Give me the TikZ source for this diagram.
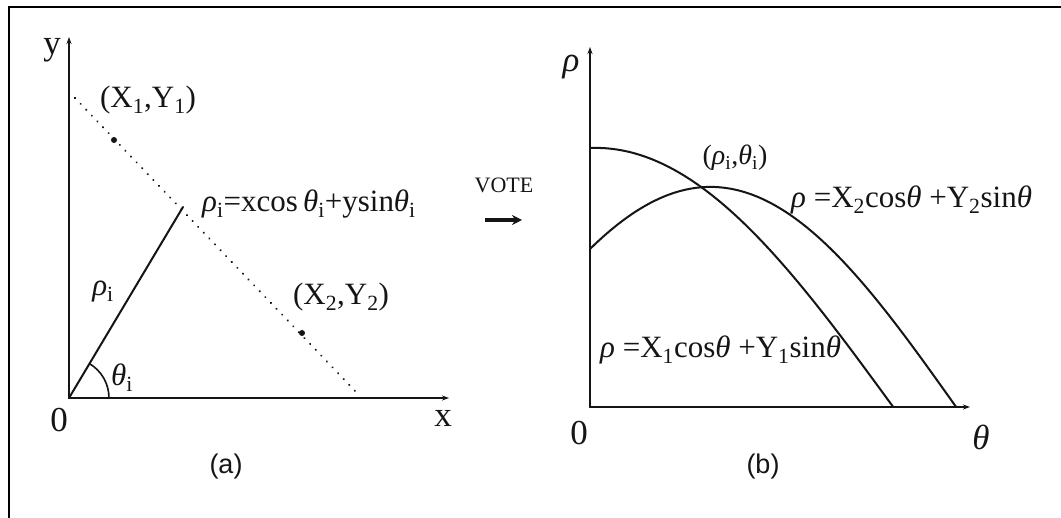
\documentclass[tikz,border=0pt]{standalone}
\usepackage{fontspec}
\setmainfont{Liberation Serif}
\setsansfont{Liberation Sans}
\usepackage{tikz}
\usetikzlibrary{positioning, arrows.meta}
\usepackage{xcolor}
\definecolor{houghInk}{HTML}{151515}
\newcommand{\rh}{\textit{ρ}}
\newcommand{\tht}{\textit{θ}}

\begin{document}
\begin{tikzpicture}[x=1pt, y=1pt, line cap=round,
    txt/.style={font=\fontsize{31}{34}\selectfont, inner sep=0pt, text=houghInk},
    axlbl/.style={font=\fontsize{35}{37}\selectfont, inner sep=0pt, text=houghInk},
    subcap/.style={font=\sffamily\fontsize{27}{30}\selectfont, inner sep=0pt, text=houghInk},
    axis/.style={draw=houghInk, line width=2.3pt, -{Stealth[length=7pt, width=5pt]}},
    curve/.style={draw=houghInk, line width=2pt},
    dotline/.style={draw=houghInk, line width=2.2pt, dash pattern=on 0.1pt off 8pt}]
        \fill[white] (0,0) rectangle (1061,518);
        \useasboundingbox (0,0) rectangle (1061,518);
        % frame
        \draw[line width=2.2pt, line cap=butt] (9,0) -- (9,511) -- (1062,511);
        % (a) x-y plane
        \coordinate (oA) at (69,120);
        \coordinate (yTop) at (69,481);
        \coordinate (xEnd) at (449,120);
        \draw[axis] (oA) -- (yTop);
        \draw[axis] (oA) -- (xEnd);
        \coordinate (lineA) at (75,420);
        \coordinate (lineB) at (357,125);
        \coordinate (foot) at (183,311);
        \coordinate (ptA) at (114,378);
        \coordinate (ptB) at (302,185);
        \draw[dotline] (lineA) -- (lineB);
        \draw[curve] (oA) -- (foot);
        \fill[houghInk] (ptA) circle[radius=3];
        \fill[houghInk] (ptB) circle[radius=3];
        \draw[houghInk, line width=1.6pt] (oA) ++(40,0) arc[start angle=0, end angle=59, radius=40];
        \node[axlbl] (yLbl) at (52,468) {y};
        \node[axlbl] (oLblA) at (59,98) {0};
        \node[axlbl] (xLbl) at (443,100) {x};
        \node[txt] (ptALbl) at (148,418) {(X\textsubscript{1},Y\textsubscript{1})};
        \node[txt] (ptBLbl) at (341,221) {(X\textsubscript{2},Y\textsubscript{2})};
        \node[txt, anchor=west] (lineEq) at (202,314) {\rh\textsubscript{i}=xcos\,\tht\textsubscript{i}+ysin\tht\textsubscript{i}};
        \node[txt] (rhoLbl) at (103,226) {\rh\textsubscript{i}};
        \node[txt] (angLbl) at (122,140) {\tht\textsubscript{i}};
        \node[subcap] (capA) at (226,51) {(a)};
        % vote arrow
        \node[txt, font=\fontsize{22}{24}\selectfont] (vote) at (504,333) {VOTE};
        \coordinate (voteS) at (485,298);
        \coordinate (voteE) at (522,298);
        \draw[houghInk, line width=3.6pt, line cap=butt, -{Stealth[length=10pt, width=10pt]}] (voteS) -- (voteE);
        % (b) rho-theta plane
        \coordinate (oB) at (590,111);
        \coordinate (rhoTop) at (590,471);
        \coordinate (thEnd) at (970,111);
        \draw[axis] (oB) -- (rhoTop);
        \draw[axis] (oB) -- (thEnd);
        \begin{scope}[shift={(590,111)}]
          \draw[curve] plot[domain=0:303, samples=80] (\x, {259.1*cos(deg(0.005283*\x-0.03))});
          \draw[curve] plot[domain=0:366, samples=80] (\x, {220.1*cos(deg(0.006395*\x-0.77))});
        \end{scope}
        \node[axlbl] (rhoAx) at (571,451) {\rh};
        \node[axlbl] (oLblB) at (579,85) {0};
        \node[axlbl] (thAx) at (981,81) {\tht};
        \node[txt, font=\fontsize{28}{30}\selectfont] (cross) at (735,360) {(\rh\textsubscript{i},\tht\textsubscript{i})};
        \node[txt, anchor=west] (eqB) at (791,318) {\rh\ =X\textsubscript{2}cos\tht\ +Y\textsubscript{2}sin\tht};
        \node[txt, anchor=west] (eqA) at (600,168) {\rh\ =X\textsubscript{1}cos\tht\ +Y\textsubscript{1}sin\tht};
        \node[subcap] (capB) at (763,51) {(b)};
      \end{tikzpicture}
\end{document}
